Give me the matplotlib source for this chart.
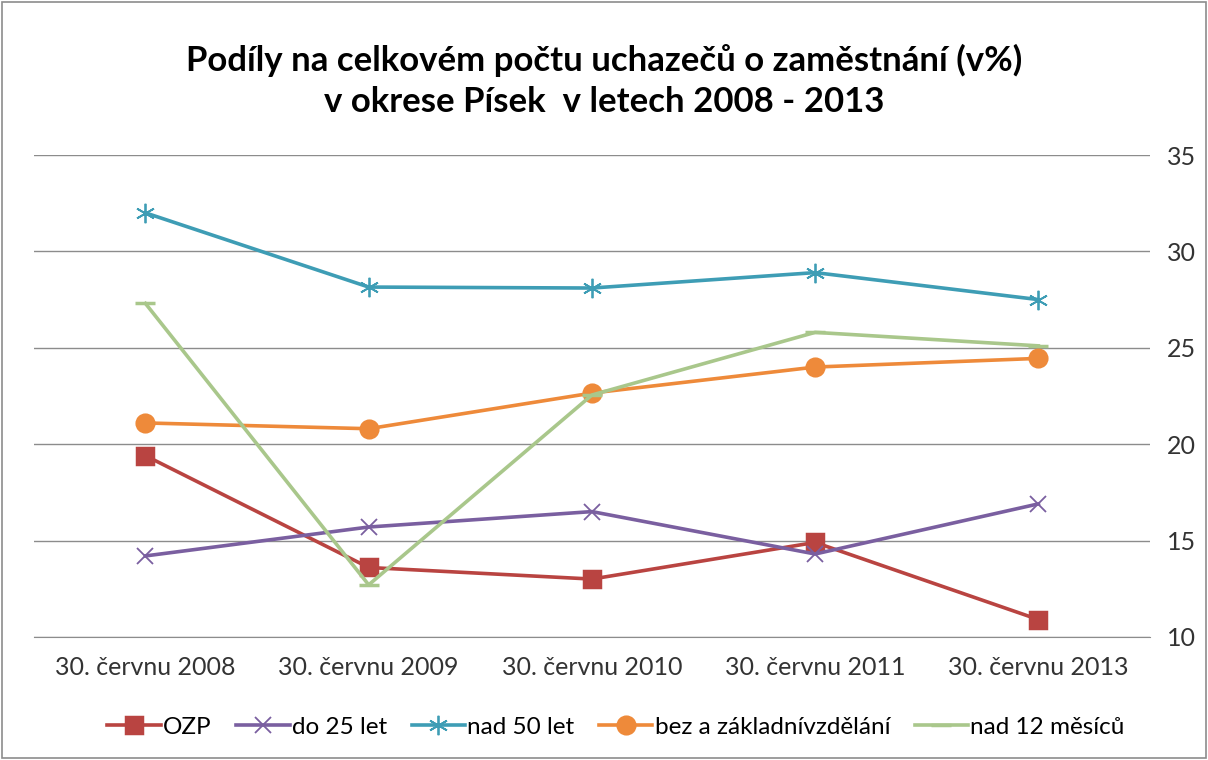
import matplotlib.pyplot as plt

plt.rcParams['font.family'] = ['Lato', 'DejaVu Sans']

categories = ['30. červnu 2008', '30. červnu 2009', '30. červnu 2010',
              '30. červnu 2011', '30. červnu 2013']
ozp = [19.4, 13.6, 13.0, 14.9, 10.9]
do25 = [14.2, 15.7, 16.5, 14.3, 16.9]
nad50 = [32.0, 28.15, 28.1, 28.9, 27.5]
bez = [21.1, 20.8, 22.65, 24.0, 24.45]
nad12m = [27.3, 12.7, 22.55, 25.8, 25.1]

series = [
    ('OZP', ozp, '#B94441', 's', 12),
    ('do 25 let', do25, '#7A5FA0', 'x', 11),
    ('nad 50 let', nad50, '#3E9DB5', (6, 2, 0), 14),
    ('bez a základnívzdělání', bez, '#EE8A3A', 'o', 12),
    ('nad 12 měsíců', nad12m, '#A9C78B', '_', 14),
]

fig = plt.figure(figsize=(12.08, 7.6), dpi=100)
ax = fig.add_axes([0.028, 0.162, 0.924, 0.634])

x = range(len(categories))
for name, vals, col, mk, ms in series:
    ax.plot(x, vals, color=col, lw=2.6, marker=mk, markersize=ms,
            markeredgewidth=1.3 if mk in ('x', (6, 2, 0)) else 2.5,
            markeredgecolor=col, markerfacecolor=col, label=name)

ax.set_xlim(-0.5, len(categories) - 0.5)
ax.set_ylim(10, 35)
ax.set_yticks([10, 15, 20, 25, 30, 35])
ax.set_xticks(list(x))
ax.set_xticklabels(categories)
ax.yaxis.tick_right()
ax.tick_params(axis='both', length=0, labelsize=18, colors='#333333')
ax.tick_params(axis='y', pad=12)
ax.tick_params(axis='x', pad=14)
ax.grid(axis='y', color='#8c8c8c', lw=1)
ax.set_axisbelow(True)
for s in ['top', 'left', 'right']:
    ax.spines[s].set_visible(False)
ax.spines['bottom'].set_color('#8c8c8c')

fig.text(0.5, 0.893, 'Podíly na celkovém počtu uchazečů o zaměstnání (v%)\n'
         'v okrese Písek  v letech 2008 - 2013',
         ha='center', va='center', fontsize=25, fontweight='bold', linespacing=1.35)

fig.legend(loc='center', bbox_to_anchor=(0.51, 0.043), ncol=5, frameon=False,
           fontsize=17.5, handlelength=2.2, columnspacing=1.0, handletextpad=0.1)

fig.patches.append(plt.Rectangle((0.002, 0.002), 0.996, 0.996, transform=fig.transFigure,
                                 fill=False, edgecolor='#8c8c8c', lw=1.2))

fig.savefig('out.png', dpi=100)
